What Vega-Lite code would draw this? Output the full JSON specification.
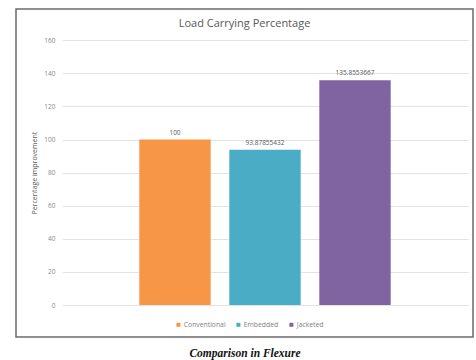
{
  "$schema": "https://vega.github.io/schema/vega-lite/v6.json",
  "autosize": {"type": "none"},
  "width": 457,
  "height": 328,
  "padding": {"left": 16, "top": 9, "right": 3, "bottom": 23},
  "background": "white",
  "title": {
    "text": "Load Carrying Percentage",
    "anchor": "middle",
    "frame": "group",
    "offset": -20,
    "font": "Open Sans",
    "fontSize": 11,
    "fontWeight": "normal",
    "color": "#595959"
  },
  "data": {
    "values": [
      {"Type": "Conventional", "Value": 100},
      {"Type": "Embedded", "Value": 93.87855432},
      {"Type": "Jacketed", "Value": 135.8553667}
    ]
  },
  "encoding": {
    "x": {
      "field": "Type",
      "type": "nominal",
      "sort": null,
      "scale": {"range": [46, 452], "paddingInner": 0.207, "paddingOuter": 0.859},
      "axis": {
        "title": "Comparison in Flexure",
        "titleX": 228.5,
        "titlePadding": 10,
        "titleFont": "Liberation Serif",
        "titleFontStyle": "italic",
        "titleFontWeight": "bold",
        "titleFontSize": 11.5,
        "titleColor": "#111111",
        "labels": false,
        "ticks": false,
        "domain": false,
        "grid": false
      }
    },
    "y": {
      "field": "Value",
      "type": "quantitative",
      "scale": {"domain": [0, 160], "range": [296, 31.3], "nice": false},
      "axis": {
        "values": [0, 20, 40, 60, 80, 100, 120, 140, 160],
        "offset": -46,
        "domain": false,
        "ticks": false,
        "labelPadding": 7,
        "labelFont": "Open Sans",
        "labelFontSize": 6.5,
        "labelColor": "#8a8a8a",
        "gridColor": "#e3e3e3",
        "gridWidth": 1,
        "title": "Percentage improvement",
        "titleFont": "Open Sans",
        "titleFontSize": 7,
        "titleFontWeight": "normal",
        "titleColor": "#595959",
        "titlePadding": 6
      }
    }
  },
  "layer": [
    {
      "mark": {"type": "bar"},
      "encoding": {
        "color": {
          "field": "Type",
          "type": "nominal",
          "sort": null,
          "scale": {"range": ["#F79646", "#4BACC6", "#8064A2"]},
          "legend": {
            "orient": "none",
            "legendX": 159,
            "legendY": 312,
            "direction": "horizontal",
            "title": null,
            "padding": 0,
            "symbolType": "square",
            "symbolSize": 16,
            "symbolStrokeWidth": 0,
            "labelFont": "Open Sans",
            "labelFontSize": 6.8,
            "labelColor": "#7f7f7f",
            "labelOffset": 2,
            "columnPadding": 9
          }
        }
      }
    },
    {
      "mark": {
        "type": "text",
        "baseline": "alphabetic",
        "dy": -5,
        "font": "Open Sans",
        "fontSize": 6.5,
        "color": "#595959"
      },
      "encoding": {
        "text": {"field": "Value", "type": "quantitative", "format": ".10~g"}
      }
    }
  ],
  "config": {
    "view": {"stroke": "#6b6b6b", "strokeWidth": 1.5}
  }
}
